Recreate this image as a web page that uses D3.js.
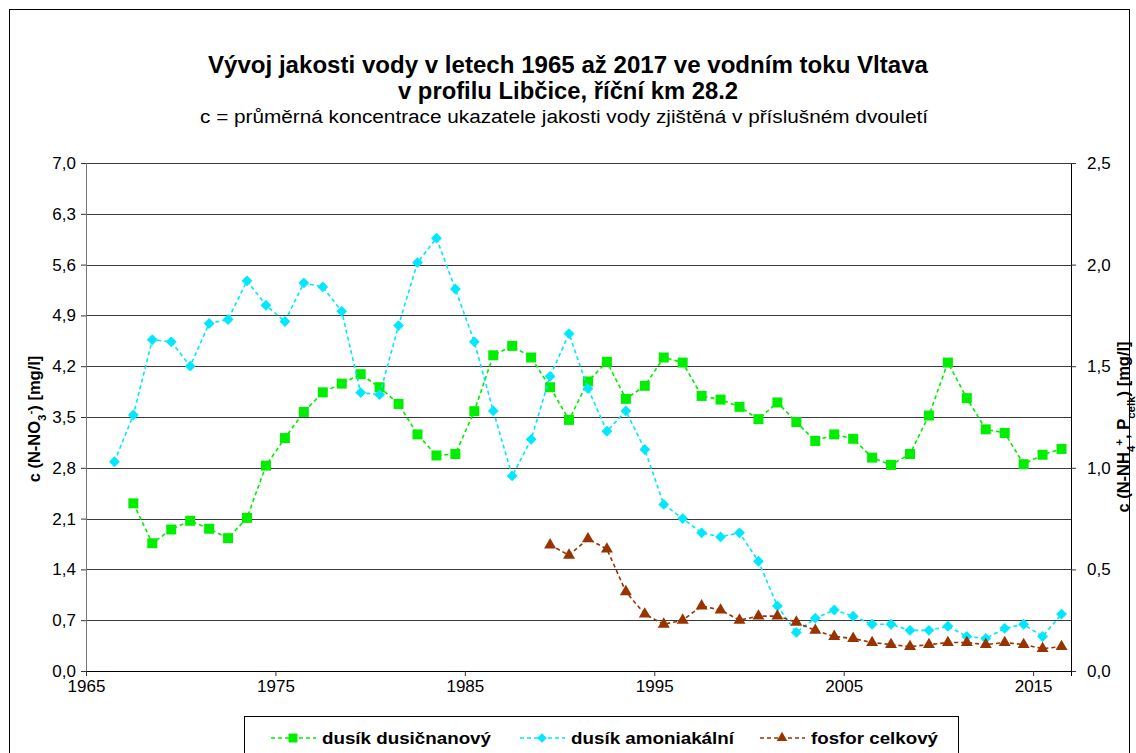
<!DOCTYPE html>
<html>
<head>
<meta charset="utf-8">
<script src="https://cdn.jsdelivr.net/npm/d3@7"></script>
<style>
  body { margin: 0; background: #fff; }
  text { font-family: "Liberation Sans", Arial, sans-serif; }
</style>
</head>
<body>
<div id="chart"></div>
<script>
var width = 1136, height = 753,
    margin = {top: 163, right: 65, bottom: 82, left: 86};

// biennium end years (point is plotted in the middle of the biennium)
var years = [1967,1968,1969,1970,1971,1972,1973,1974,1975,1976,1977,1978,1979,1980,1981,1982,1983,
  1984,1985,1986,1987,1988,1989,1990,1991,1992,1993,1994,1995,1996,1997,1998,1999,2000,2001,2002,
  2003,2004,2005,2006,2007,2008,2009,2010,2011,2012,2013,2014,2015,2016,2017];

// dusík amoniakální, right axis
var nh4 = [1.03,1.26,1.63,1.62,1.50,1.71,1.73,1.92,1.80,1.72,1.91,1.89,1.77,1.37,1.36,1.70,2.01,
  2.13,1.88,1.62,1.28,0.96,1.14,1.45,1.66,1.39,1.18,1.28,1.09,0.82,0.75,0.68,0.66,0.68,0.54,0.32,
  0.19,0.26,0.30,0.27,0.23,0.23,0.20,0.20,0.22,0.17,0.16,0.21,0.23,0.17,0.28];

// dusík dusičnanový, left axis (from 1968)
var no3 = [2.31,1.76,1.95,2.07,1.96,1.83,2.11,2.83,3.21,3.57,3.84,3.96,4.09,3.91,3.68,3.26,
  2.97,2.99,3.58,4.35,4.48,4.32,3.91,3.46,3.99,4.26,3.75,3.93,4.32,4.25,3.79,3.74,3.64,3.47,
  3.70,3.43,3.17,3.26,3.20,2.94,2.84,2.99,3.52,4.25,3.76,3.33,3.28,2.85,2.98,3.06];

// fosfor celkový, right axis (from 1990)
var ptot = [0.62,0.57,0.65,0.60,0.39,0.28,0.23,0.25,0.32,0.30,0.25,0.27,0.27,0.24,0.20,0.17,
  0.16,0.14,0.13,0.12,0.13,0.14,0.14,0.13,0.14,0.13,0.11,0.12];

var leftTicks = [0,0.7,1.4,2.1,2.8,3.5,4.2,4.9,5.6,6.3,7.0];
var rightTicks = [0,0.5,1.0,1.5,2.0,2.5];
var xTicks = [1965,1975,1985,1995,2005,2015];

var series = [
  {name: "dusík dusičnanový", color: "#00ee00", symbol: d3.symbolSquare, size: 100, axis: "left",
   data: no3.map((v,i) => ({year: years[i+1], v: v})), textW: 169},
  {name: "dusík amoniakální", color: "#00e8ff", symbol: d3.symbolDiamond2, size: 75, axis: "right",
   data: nh4.map((v,i) => ({year: years[i], v: v})), textW: 163},
  {name: "fosfor celkový", color: "#993300", symbol: d3.symbolTriangle, size: 62, axis: "right",
   data: ptot.map((v,i) => ({year: years[i+23], v: v})), textW: 127}
];

var innerW = width - margin.left - margin.right,
    innerH = height - margin.top - margin.bottom;

var svg = d3.select("#chart").append("svg").attr("width", width).attr("height", height);

// outer frame
svg.append("rect").attr("x", 9.5).attr("y", 9.5).attr("width", 1120).attr("height", 760)
   .attr("fill", "none").attr("stroke", "#000").attr("stroke-width", 1);

// titles
svg.append("text").attr("x", 568).attr("y", 73).attr("text-anchor", "middle")
   .attr("textLength", 720).attr("lengthAdjust", "spacingAndGlyphs")
   .style("font-size", "23px").style("font-weight", "bold")
   .text("Vývoj jakosti vody v letech 1965 až 2017 ve vodním toku Vltava");
svg.append("text").attr("x", 568).attr("y", 99).attr("text-anchor", "middle")
   .attr("textLength", 340).attr("lengthAdjust", "spacingAndGlyphs")
   .style("font-size", "23px").style("font-weight", "bold")
   .text("v profilu Libčice, říční km 28.2");
svg.append("text").attr("x", 564).attr("y", 123).attr("text-anchor", "middle")
   .attr("textLength", 728).attr("lengthAdjust", "spacingAndGlyphs")
   .style("font-size", "18px")
   .text("c = průměrná koncentrace ukazatele jakosti vody  zjištěná v  příslušném dvouletí");

var g = svg.append("g").attr("transform", "translate(" + margin.left + "," + margin.top + ")");

var x = d3.scaleLinear().domain([1965, 2017]).range([0, innerW]);
var yL = d3.scaleLinear().domain([0, 7]).range([innerH, 0]);
var yR = d3.scaleLinear().domain([0, 2.5]).range([innerH, 0]);

// gridlines
g.append("g").selectAll("line").data(leftTicks.slice(1)).enter().append("line")
  .attr("x1", 0).attr("x2", innerW)
  .attr("y1", d => Math.round(yL(d)) + 0.5).attr("y2", d => Math.round(yL(d)) + 0.5)
  .attr("stroke", "#3a3a3a").attr("stroke-width", 1);

function styleAxis(sel) {
  sel.selectAll("text").style("font-size", "17px").attr("fill", "#000");
  sel.selectAll(".tick line").attr("stroke", "#333");
}

var fmt = d => d3.format(".1f")(d).replace(".", ",");

g.append("g").call(d3.axisLeft(yL).tickValues(leftTicks).tickFormat(fmt).tickSize(5).tickPadding(5))
  .call(sel => sel.select(".domain").attr("stroke", "#777"))
  .call(styleAxis);

g.append("g").attr("transform", "translate(" + innerW + ",0)")
  .call(d3.axisRight(yR).tickValues(rightTicks).tickFormat(fmt).tickSize(5).tickPadding(11))
  .call(sel => sel.select(".domain").attr("stroke", "#000"))
  .call(styleAxis);

g.append("g").attr("transform", "translate(0," + innerH + ")")
  .call(d3.axisBottom(x).tickValues(xTicks).tickFormat(d3.format("d")).tickSize(5).tickPadding(4))
  .call(sel => sel.select(".domain").attr("stroke", "#000"))
  .call(styleAxis);

// axis titles
var lt = svg.append("text").attr("transform", "translate(40," + (margin.top + innerH / 2 + 2) + ") rotate(-90)")
  .attr("text-anchor", "middle").style("font-size", "16.5px").style("font-weight", "bold");
lt.append("tspan").text("c (N-NO");
lt.append("tspan").attr("baseline-shift", "sub").style("font-size", "11.5px").text("3");
lt.append("tspan").attr("baseline-shift", "super").style("font-size", "11.5px").text("-");
lt.append("tspan").text(")  [mg/l]");

var rt = svg.append("text").attr("transform", "translate(1129," + (margin.top + innerH / 2 + 10) + ") rotate(-90)")
  .attr("text-anchor", "middle").style("font-size", "16.5px").style("font-weight", "bold");
rt.append("tspan").text("c (N-NH");
rt.append("tspan").attr("baseline-shift", "sub").style("font-size", "11.5px").text("4");
rt.append("tspan").attr("baseline-shift", "super").style("font-size", "11.5px").text("+");
rt.append("tspan").text(",  P");
rt.append("tspan").attr("baseline-shift", "sub").style("font-size", "11.5px").text("celk");
rt.append("tspan").text(") [mg/l]");

// lines and markers
series.forEach(s => {
  var y = s.axis == "left" ? yL : yR;
  var line = d3.line().x(d => x(d.year - 0.5)).y(d => y(d.v));
  g.append("path").datum(s.data)
    .attr("d", line).attr("fill", "none").attr("stroke", s.color)
    .attr("stroke-width", 1.6).attr("stroke-dasharray", "4,3");
  g.append("g").selectAll("path").data(s.data).enter().append("path")
    .attr("transform", d => "translate(" + x(d.year - 0.5) + "," + y(d.v) + ")")
    .attr("d", d3.symbol().type(s.symbol).size(s.size))
    .attr("fill", s.color);
});

// legend
var legend = svg.append("g").attr("transform", "translate(244,716)");
legend.append("rect").attr("x", 0.5).attr("y", 0.5).attr("width", 714).attr("height", 60)
  .attr("fill", "#fff").attr("stroke", "#000");

var legendX = [27, 276, 516];
series.forEach((s, i) => {
  var lg = legend.append("g").attr("transform", "translate(" + legendX[i] + ",22)");
  lg.append("line").attr("x1", 0).attr("x2", 45).attr("y1", 0).attr("y2", 0)
    .attr("stroke", s.color).attr("stroke-width", 1.6).attr("stroke-dasharray", "4,3");
  lg.append("path").attr("transform", "translate(22,0)")
    .attr("d", d3.symbol().type(s.symbol).size(s.size * 0.8)).attr("fill", s.color);
  lg.append("text").attr("x", 51).attr("y", 6)
    .attr("textLength", s.textW).attr("lengthAdjust", "spacingAndGlyphs")
    .style("font-size", "17px").style("font-weight", "bold").text(s.name);
});
</script>
</body>
</html>
